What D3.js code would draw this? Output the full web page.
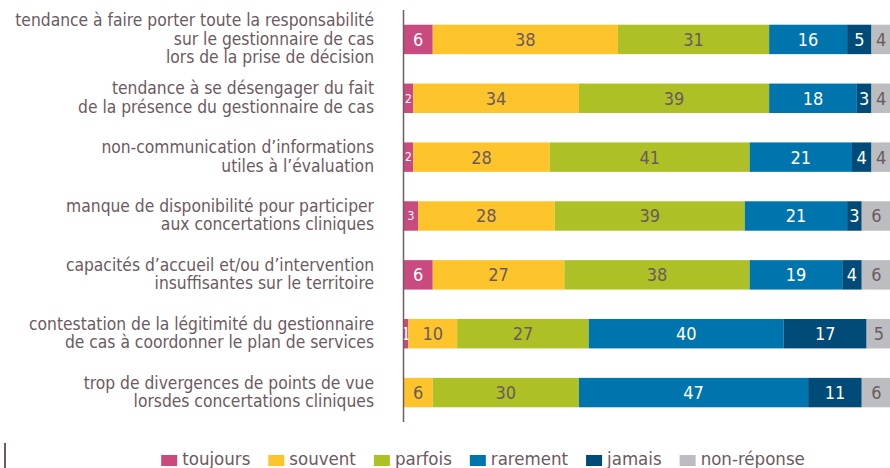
<!DOCTYPE html>
<html>
<head>
<meta charset="utf-8">
<script src="https://cdn.jsdelivr.net/npm/d3@7"></script>
<style>
  html, body { margin: 0; padding: 0; background: #ffffff; }
  svg { display: block; }
  text { font-family: "DejaVu Sans Condensed", "Liberation Sans", sans-serif; }
</style>
</head>
<body>
<svg id="chart" width="890" height="468"></svg>
<script>
// Obstacles rencontrés avec les partenaires (%)
const categories = [
  ["tendance à faire porter toute la responsabilité", "sur le gestionnaire de cas", "lors de la prise de décision"],
  ["tendance à se désengager du fait", "de la présence du gestionnaire de cas"],
  ["non-communication d’informations", "utiles à l’évaluation"],
  ["manque de disponibilité pour participer", "aux concertations cliniques"],
  ["capacités d’accueil et/ou d’intervention", "insuffisantes sur le territoire"],
  ["contestation de la légitimité du gestionnaire", "de cas à coordonner le plan de services"],
  ["trop de divergences de points de vue", "lorsdes concertations cliniques"]
];

const seriesNames = ["toujours", "souvent", "parfois", "rarement", "jamais", "non-réponse"];

const toujours   = [6, 2, 2, 3, 6, 1, 0];
const souvent    = [38, 34, 28, 28, 27, 10, 6];
const parfois    = [31, 39, 41, 39, 38, 27, 30];
const rarement   = [16, 18, 21, 21, 19, 40, 47];
const jamais     = [5, 3, 4, 3, 4, 17, 11];
const nonReponse = [4, 4, 4, 6, 6, 5, 6];

const colors = ["#c94a7f", "#fdc52b", "#adc126", "#0075ad", "#004b78", "#bcbdc0"];
const labelColors = ["#ffffff", "#6b5a5f", "#6b5a5f", "#ffffff", "#ffffff", "#6b5a5f"];
const textColor = "#6b5a5f";

const seriesValues = [toujours, souvent, parfois, rarement, jamais, nonReponse];
const table = categories.map((c, i) => {
  const row = { idx: i };
  seriesNames.forEach((s, k) => { row[s] = seriesValues[k][i]; });
  return row;
});

const svg = d3.select("#chart");

const x = d3.scaleLinear().domain([0, 100]).range([403.5, 891]);
const y = d3.scaleBand()
  .domain(d3.range(categories.length))
  .range([10, 422])
  .paddingInner(0.5)
  .paddingOuter(0.25);

const stacked = d3.stack().keys(seriesNames)(table);

// segments
const layers = svg.append("g")
  .selectAll("g")
  .data(stacked)
  .join("g")
  .attr("fill", (d, k) => colors[k]);

layers.selectAll("rect")
  .data(d => d)
  .join("rect")
  .attr("x", d => x(d[0]))
  .attr("width", d => x(d[1]) - x(d[0]))
  .attr("y", d => y(d.data.idx))
  .attr("height", y.bandwidth());

// value labels (the narrow "toujours" slivers use a smaller size)
layers.each(function (layer, k) {
  d3.select(this).selectAll("text")
    .data(layer.filter(d => d[1] - d[0] > 0))
    .join("text")
    .attr("x", d => (x(d[0]) + x(d[1])) / 2)
    .attr("y", d => y(d.data.idx) + y.bandwidth() / 2)
    .attr("dy", "0.36em")
    .attr("text-anchor", "middle")
    .attr("fill", labelColors[k])
    .attr("font-size", d => (k === 0 && d[1] - d[0] > 1 && d[1] - d[0] <= 3) ? 12 : 18)
    .text(d => d[1] - d[0]);
});

// vertical axis line
svg.append("line")
  .attr("x1", 403.5).attr("x2", 403.5)
  .attr("y1", y.range()[0]).attr("y2", y.range()[1])
  .attr("stroke", "#6f5c61").attr("stroke-width", 1.5);

// category labels
const lineH = 18.5;
const catG = svg.append("g");
categories.forEach((lines, i) => {
  const cy = y(i) + y.bandwidth() / 2;
  const top = cy - (lines.length - 1) * lineH / 2;
  const t = catG.append("text")
    .attr("text-anchor", "end")
    .attr("fill", textColor)
    .attr("font-size", 17.3);
  lines.forEach((ln, j) => {
    t.append("tspan")
      .attr("x", 374)
      .attr("y", top + j * lineH)
      .attr("dy", "0.3em")
      .text(ln);
  });
});

// legend
const legend = svg.append("g");
let lx = 0;
seriesNames.forEach((s, k) => {
  const g = legend.append("g").attr("transform", `translate(${lx},0)`);
  g.append("rect").attr("x", 0).attr("y", 455).attr("width", 16).attr("height", 11).attr("fill", colors[k]);
  const t = g.append("text").attr("x", 21).attr("y", 465)
    .attr("fill", textColor).attr("font-size", 18.5).text(s);
  lx += 21 + t.node().getComputedTextLength() + 18;
});
const legendW = lx - 18;
legend.attr("transform", `translate(${483 - legendW / 2},0)`);

// small mark at the bottom left
svg.append("line")
  .attr("x1", 5).attr("x2", 5).attr("y1", 443).attr("y2", 468)
  .attr("stroke", "#6f5c61").attr("stroke-width", 2);
</script>
</body>
</html>
